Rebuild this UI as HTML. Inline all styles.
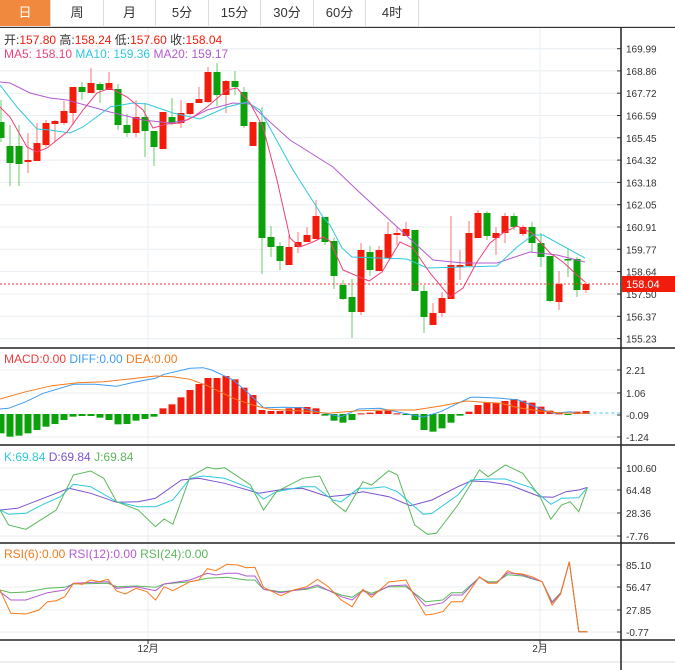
<!DOCTYPE html>
<html><head><meta charset="utf-8">
<style>
html,body{margin:0;padding:0;background:#fff;width:675px;height:670px;overflow:hidden;font-family:"Liberation Sans","Noto Sans CJK SC",sans-serif;}
.tabs{position:absolute;left:0;top:0;width:675px;height:26px;border-bottom:1px solid #ddd;}
.tab{position:absolute;top:0;height:26px;line-height:26px;text-align:center;font-size:13px;color:#333;border-right:1px solid #ddd;}
.tab.on{background:#f0883e;color:#fff;}
svg{position:absolute;left:0;top:0;}
</style></head><body>
<div class="tabs">
<div class="tab on" style="left:0;width:50px">日</div>
<div class="tab" style="left:51px;width:52px">周</div>
<div class="tab" style="left:104px;width:51px">月</div>
<div class="tab" style="left:156px;width:52px">5分</div>
<div class="tab" style="left:209px;width:51px">15分</div>
<div class="tab" style="left:261px;width:52px">30分</div>
<div class="tab" style="left:314px;width:51px">60分</div>
<div class="tab" style="left:366px;width:52px">4时</div>
</div>
<svg id="s" width="675" height="670" xmlns="http://www.w3.org/2000/svg"></svg>
<script>
var s=document.getElementById('s'),h='';
function L(x1,y1,x2,y2,c,w,d){h+='<line x1="'+x1+'" y1="'+y1+'" x2="'+x2+'" y2="'+y2+'" stroke="'+c+'" stroke-width="'+(w||1)+'"'+(d?' stroke-dasharray="'+d+'"':'')+'/>';}
function T(x,y,t,c,sz,a){h+='<text x="'+x+'" y="'+y+'" fill="'+c+'" font-size="'+(sz||12)+'"'+(a?' text-anchor="'+a+'"':'')+'>'+t+'</text>';}
function P(pts,c,sx,oy,sy){var a=[];for(var i=0;i<pts.length;i+=2){a.push((pts[i]*sx).toFixed(1)+','+(oy+pts[i+1]*sy).toFixed(1));}h+='<polyline fill="none" stroke="'+c+'" stroke-width="1" points="'+a.join(' ')+'"/>';}
// grids
var pl=[[48.7,'169.99'],[70.9,'168.86'],[93.2,'167.72'],[115.5,'166.59'],[137.8,'165.45'],[160.1,'164.32'],[182.4,'163.18'],[204.7,'162.05'],[227,'160.91'],[249.3,'159.77'],[271.6,'158.64'],[294,'157.50'],[316.3,'156.37'],[338.6,'155.23']];
pl.forEach(function(p){L(0,p[0],621,p[0],'#e8eef2');L(617,p[0],621,p[0],'#333');T(626,p[0]+4,p[1],'#333',10);});
var ml=[[370,'2.21'],[393,'1.06'],[415,'-0.09'],[437,'-1.24']];
ml.forEach(function(p){L(0,p[0],621,p[0],'#e8eef2');L(617,p[0],621,p[0],'#333');T(626,p[0]+4,p[1],'#333',10);});
var kl=[[468,'100.60'],[490,'64.48'],[513,'28.36'],[536,'-7.76']];
kl.forEach(function(p){L(0,p[0],621,p[0],'#e8eef2');L(617,p[0],621,p[0],'#333');T(626,p[0]+4,p[1],'#333',10);});
var rl=[[565,'85.10'],[587,'56.47'],[610,'27.85'],[632,'-0.77']];
rl.forEach(function(p){L(0,p[0],621,p[0],'#e8eef2');L(617,p[0],621,p[0],'#333');T(626,p[0]+4,p[1],'#333',10);});
L(148,27,148,640,'#e8eef2');L(540,27,540,640,'#e8eef2');
// candles: color,open,close,high,low (y px)
var C=[['G',122,138,100,142],['G',146,163,125,186],['G',146,164,125,186],['R',162,160,133,173],['R',161,143,123,161],['R',145,123,120,147],['R',124,121,120,142],['R',123,111,101,125],['R',113,87,87,125],['G',87,92,82,100],['R',93,83,68,93],['G',84,90,82,103],['R',90,83,72,90],['G',89,125,84,130],['G',125,133,114,137],['R',133,117,100,137],['G',117,131,103,157],['G',131,147,131,166],['R',149,112,112,149],['G',117,123,98,125],['R',123,113,100,128],['R',114,103,103,115],['R',103,99,87,103],['R',102,72,67,103],['G',72,95,63,106],['R',95,81,80,113],['G',81,87,71,95],['G',92,126,87,128],['R',146,122,122,146],['G',122,238,107,274],['G',237,247,226,257],['G',246,261,242,270],['R',265,247,235,265],['R',247,242,232,253],['R',242,235,227,242],['R',239,216,200,239],['G',217,242,217,245],['G',241,276,238,289],['G',285,299,280,300],['G',297,312,279,338],['R',312,250,243,315],['G',252,270,246,276],['R',271,250,246,271],['R',258,234,222,258],['R',235,233,227,245],['R',236,229,222,236],['G',230,291,230,291],['G',291,317,285,333],['R',325,313,303,325],['R',313,298,292,317],['R',299,265,216,299],['R',267,265,250,280],['R',266,233,221,266],['R',238,213,210,238],['G',213,236,211,240],['R',238,233,227,255],['R',233,216,213,243],['G',216,227,213,230],['R',234,227,225,236],['G',227,243,222,252],['G',243,257,233,267],['G',256,301,256,302],['R',302,284,271,310],['G',259,260,248,277],['G',259,290,257,297],['R',290,284,282,293]];
C.forEach(function(c,i){var x=1+9*i,col=c[0]=='R'?'#f21c0c':'#0aa10a',wc=c[0]=='R'?'#f77':'#6c6';
L(x,c[3],x,c[4],wc);var t=Math.min(c[1],c[2]),b=Math.max(c[1],c[2]);if(b-t<1.5)b=t+1.5;
h+='<rect x="'+(x-3.5)+'" y="'+t+'" width="7" height="'+(b-t)+'" fill="'+col+'"/>';});
P([0,82,10,83,30,93,50,98,67,100,110,112,143,120,170,123,187,120,207,110,233,103,250,104,290,140,333,167,357,190,433,260,463,263,497,263,530,252,557,255,585,262],'#b35bd0',1,0,1);
P([0,85,17,107,37,129,50,130,70,133,83,127,110,107,133,103,147,104,173,113,200,119,227,107,247,102,260,110,293,170,323,217,330,225,342,248,352,257,407,259,427,268,463,267,497,266,517,247,533,235,543,235,585,258],'#2ec9dc',1,0,1);
P([0,107,10,117,27,147,37,152,47,148,67,132,83,110,97,93,110,88,127,97,143,110,153,128,167,124,180,123,193,117,207,107,227,90,237,88,250,103,263,127,277,180,290,238,300,247,313,242,323,237,330,241,343,270,369,281,382,272,400,242,413,248,430,273,450,297,463,288,477,262,490,243,503,233,517,226,532,233,550,253,563,262,577,275,585,282],'#f0407a',1,0,1);
L(0,284,621,284,'#f33',1,'2,2');
h+='<rect x="622" y="276" width="53" height="16" fill="#f21c0c"/>';T(626,288,'158.04','#fff',11);
// MACD
var M=[265,275,272,265,255,245,237,225,215,213,213,218,225,238,237,227,222,215,190,178,157,135,117,99,99,93,103,128,150,195,198,198,190,186,186,190,212,227,233,225,205,203,198,197,205,210,225,255,260,250,233,212,200,180,173,173,168,162,167,173,185,197,205,210,200,198];
M.forEach(function(v,i){var x=1+9*i,y=345+v/3,z=414;var t=Math.min(y,z),b=Math.max(y,z);h+='<rect x="'+(x-3.5)+'" y="'+t+'" width="7" height="'+Math.max(b-t,1)+'" fill="'+(v<207?'#f21c0c':'#0aa10a')+'"/>';});
var sx=1/2.315;
P([0,192,20,190,60,170,100,145,170,118,220,118,270,124,310,112,360,100,380,88,440,70,470,68,490,75,540,105,580,150,610,188,660,187,700,188,740,202,790,215,830,192,880,190,930,203,980,216,1020,200,1060,175,1090,157,1110,157,1160,160,1200,165,1240,185,1280,205,1320,200,1340,205],'#3d9df0',sx,345,1/3);
P([0,162,60,140,120,122,180,113,240,110,300,102,360,93,400,95,440,103,480,122,540,160,580,178,620,192,700,198,760,205,830,197,900,195,960,195,1020,183,1080,168,1120,172,1160,175,1200,188,1250,198,1300,204,1360,205],'#f57a1a',sx,345,1/3);
L(1360*sx,413,621,413,'#3dc8f0',1,'3,3');
// KDJ
P([0,495,40,490,100,460,160,430,210,445,270,472,320,470,360,460,420,405,460,400,520,415,600,445,660,432,700,430,760,455,800,450,840,440,900,455,950,482,1000,465,1060,425,1090,408,1130,410,1180,420,1250,455,1280,457,1310,440,1340,435,1360,427],'#7b52d0',sx,345,1/3);
P([0,495,20,508,60,505,100,478,140,455,170,418,210,425,270,470,320,485,360,485,400,465,440,400,470,393,520,400,580,430,610,462,640,440,700,425,730,425,770,465,790,470,830,430,860,430,890,425,920,440,980,508,1000,505,1060,450,1090,405,1130,402,1170,402,1230,428,1275,478,1300,460,1340,458,1360,427],'#2ec9dc',sx,345,1/3);
P([0,495,20,540,60,553,100,520,130,495,170,390,210,378,240,400,270,470,320,495,360,545,380,522,400,538,440,395,480,367,500,372,520,368,580,420,610,495,640,440,700,400,740,393,770,470,800,500,840,410,860,420,900,377,920,390,960,540,990,568,1010,565,1060,480,1110,375,1130,395,1170,360,1210,385,1250,455,1275,523,1300,480,1320,470,1340,500,1360,427],'#5cb85c',sx,345,1/3);
// RSI
P([0,150,25,158,60,156,110,145,150,142,170,132,250,130,270,140,315,138,360,142,380,132,440,125,480,115,525,112,570,120,590,120,610,148,650,155,710,148,735,140,790,165,815,172,840,150,860,160,900,140,940,140,985,185,1025,180,1045,158,1070,158,1110,112,1130,125,1150,125,1175,104,1210,108,1255,125,1278,185,1298,158,1318,65,1340,275,1360,275],'#5cb85c',sx,540,1/3);
P([0,155,25,180,60,180,110,158,150,150,170,130,250,125,270,145,315,140,360,152,380,132,440,120,480,100,500,105,525,100,550,100,570,108,590,108,610,148,650,158,710,145,735,135,790,170,815,180,840,152,860,165,900,138,940,135,985,198,1025,188,1045,165,1070,165,1110,112,1130,128,1150,128,1175,98,1210,105,1255,125,1278,188,1298,160,1318,65,1340,275,1360,275],'#b35bd0',sx,540,1/3);
P([0,150,25,220,60,222,90,210,110,185,130,182,150,170,170,130,190,133,210,120,230,125,250,118,270,153,290,162,315,145,340,155,360,180,380,140,400,152,440,125,460,120,480,86,500,92,525,73,550,75,570,83,590,82,610,142,650,167,680,150,710,140,735,118,760,140,790,180,815,200,840,148,860,172,900,126,940,120,960,170,985,225,1000,223,1025,215,1045,185,1070,185,1110,110,1130,130,1150,130,1175,92,1190,100,1210,102,1235,112,1255,125,1278,195,1298,162,1318,65,1340,275,1360,275],'#f57a1a',sx,540,1/3);
// frames
L(0,27.5,675,27.5,'#333');L(0,348,675,348,'#222',1.5);L(0,445,675,445,'#222',1.5);L(0,543,675,543,'#222',1.5);L(0,640,675,640,'#222',1.5);L(0,662,675,662,'#ddd');
L(621,27,621,670,'#222',1.5);
L(148,640,148,644,'#333');L(540,640,540,644,'#333');
T(148,652,'12月','#333',10,'middle');T(540,652,'2月','#333',10,'middle');
// labels
h+='<text x="4" y="44" font-size="12"><tspan fill="#333">开:</tspan><tspan fill="#f21c0c">157.80 </tspan><tspan fill="#333"> 高:</tspan><tspan fill="#f21c0c">158.24 </tspan><tspan fill="#333"> 低:</tspan><tspan fill="#f21c0c">157.60 </tspan><tspan fill="#333"> 收:</tspan><tspan fill="#f21c0c">158.04</tspan></text>';
h+='<text x="4" y="58" font-size="12"><tspan fill="#f0407a">MA5: 158.10 </tspan><tspan fill="#2ec9dc"> MA10: 159.36 </tspan><tspan fill="#b35bd0"> MA20: 159.17</tspan></text>';
h+='<text x="4" y="363" font-size="12"><tspan fill="#f03a3a">MACD:0.00 </tspan><tspan fill="#3d9df0"> DIFF:0.00 </tspan><tspan fill="#f57a1a"> DEA:0.00</tspan></text>';
h+='<text x="4" y="461" font-size="12"><tspan fill="#2ec9dc">K:69.84 </tspan><tspan fill="#7b52d0"> D:69.84 </tspan><tspan fill="#5cb85c"> J:69.84</tspan></text>';
h+='<text x="4" y="558" font-size="12"><tspan fill="#f57a1a">RSI(6):0.00 </tspan><tspan fill="#b35bd0"> RSI(12):0.00 </tspan><tspan fill="#5cb85c"> RSI(24):0.00</tspan></text>';
s.innerHTML=h;
</script>
</body></html>
